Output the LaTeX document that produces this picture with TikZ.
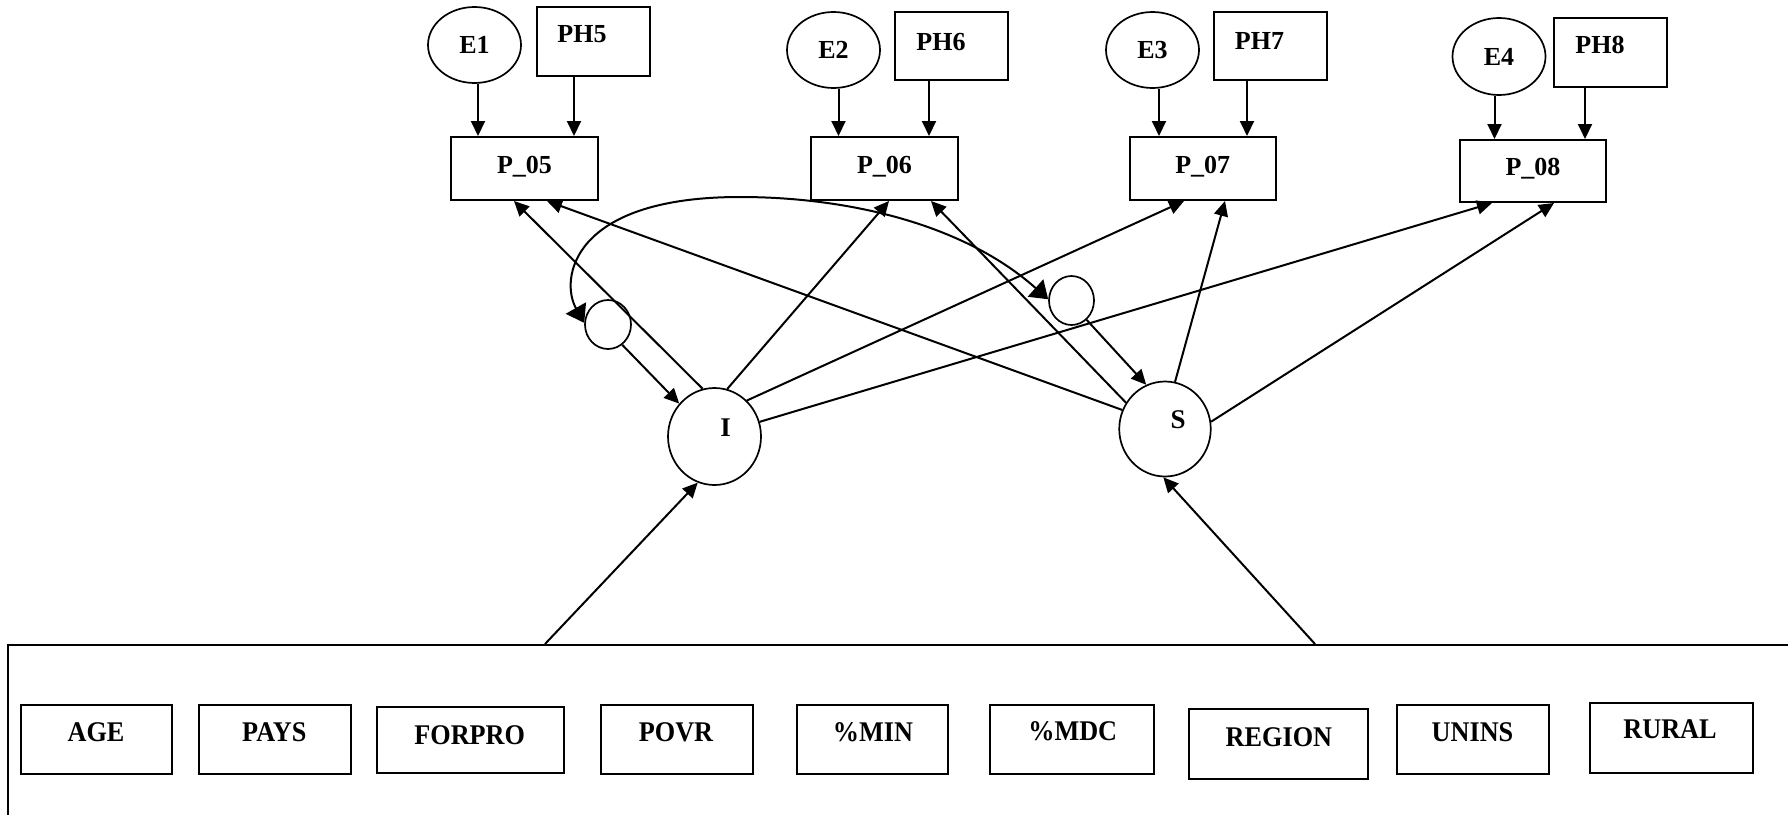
\documentclass[tikz,border=0pt]{standalone}
\usepackage{fontspec}
\setmainfont{Liberation Serif}
\usepackage{graphicx}
\usetikzlibrary{arrows.meta,calc,shapes.geometric}
\newcommand\toplab{\bfseries\fontsize{26}{30}\selectfont}
\newcommand\botlab{\bfseries\fontsize{28.5}{32}\selectfont}
\newcommand\sq[1]{\scalebox{0.92}[1]{#1}}
\begin{document}
\begin{tikzpicture}[x=1pt,y=-1pt,
  txt/.style={font=\toplab, text height=17pt, text depth=0pt, inner sep=0pt},
  btxt/.style={font=\botlab, text height=18.5pt, text depth=0pt, inner sep=0pt},
  box/.style={draw, line width=2pt, rectangle, inner sep=0pt, txt},
  pbox/.style={box, text depth=8pt},
  ell/.style={draw, ellipse, line width=1.7pt, inner sep=0pt, txt},
  conn/.style={line width=2pt, -{Triangle[length=15pt,width=14pt]}},
  covarrow/.style={line width=2pt, {Triangle[length=17pt,width=23pt]}-{Triangle[length=17pt,width=23pt]}},
]
\useasboundingbox (0,0) rectangle (1788,814);
\fill[white] (0,0) rectangle (1788,814);

% error terms and PH boxes
\node[ell, minimum width=93pt, minimum height=76pt] (E1) at (474.5,45) {E1};
\node[ell, minimum width=93pt, minimum height=76pt] (E2) at (833.5,50) {E2};
\node[ell, minimum width=93pt, minimum height=76pt] (E3) at (1152.5,50) {E3};
\node[ell, minimum width=93pt, minimum height=77pt] (E4) at (1499,56.5) {E4};

\node[box, minimum width=113pt, minimum height=69pt] (PH5) at (593.5,41.5) {};
\node[box, minimum width=113pt, minimum height=68pt] (PH6) at (951.5,46) {};
\node[box, minimum width=113pt, minimum height=68pt] (PH7) at (1270.5,46) {};
\node[box, minimum width=113pt, minimum height=69pt] (PH8) at (1610.5,52.5) {};
\node[txt] (PH5t) at (582,34) {PH5};
\node[txt] (PH6t) at (941,41.7) {PH6};
\node[txt] (PH7t) at (1259.5,40.8) {PH7};
\node[txt] (PH8t) at (1600,44.7) {PH8};

% indicator boxes
\node[pbox, minimum width=147pt, minimum height=63pt] (P05) at (524.5,168.5) {P\_05};
\node[pbox, minimum width=147pt, minimum height=63pt] (P06) at (884.5,168.5) {P\_06};
\node[pbox, minimum width=146.5pt, minimum height=63pt] (P07) at (1202.75,168.5) {P\_07};
\node[pbox, minimum width=146pt, minimum height=62pt] (P08) at (1533,171) {P\_08};

% latent factors and disturbances
\node[ell, minimum width=93pt, minimum height=97pt] (I) at (714.5,436.5) {};
\node[ell, minimum width=91.5pt, minimum height=95pt] (S) at (1165,429) {};
\node[txt, font=\bfseries\fontsize{27}{30}\selectfont] (It) at (725.5,427.5) {I};
\node[txt, font=\bfseries\fontsize{27}{30}\selectfont] (St) at (1178,420) {S};
\node[ell, minimum width=46pt, minimum height=49pt] (eL) at (608,324.5) {};
\node[ell, minimum width=45pt, minimum height=49pt] (eR) at (1071.5,300.5) {};

% covariate group
\node[draw, line width=2pt, rectangle, inner sep=0pt, anchor=north west,
      minimum width=1850pt, minimum height=220pt] (grp) at (7,644) {};
\node[box, minimum width=151.3pt, minimum height=69pt] (AGE) at (96.3,739.5) {};
\node[box, minimum width=152pt, minimum height=69pt] (PAYS) at (275,739.5) {};
\node[box, minimum width=187pt, minimum height=66pt] (FORPRO) at (470.5,740) {};
\node[box, minimum width=152pt, minimum height=69pt] (POVR) at (677,739.5) {};
\node[box, minimum width=151pt, minimum height=69pt] (MIN) at (872.5,739.5) {};
\node[box, minimum width=164pt, minimum height=69pt] (MDC) at (1071.6,739.5) {};
\node[box, minimum width=179pt, minimum height=70pt] (REGION) at (1278.5,744) {};
\node[box, minimum width=152pt, minimum height=69pt] (UNINS) at (1472.9,739.5) {};
\node[box, minimum width=163pt, minimum height=70pt] (RURAL) at (1671.5,737.7) {};
\node[btxt] (AGEt) at (96,732.3) {\sq{AGE}};
\node[btxt] (PAYSt) at (274.3,732.3) {\sq{PAYS}};
\node[btxt] (FORPROt) at (469.7,735) {\sq{FORPRO}};
\node[btxt] (POVRt) at (676,732) {\sq{POVR}};
\node[btxt] (MINt) at (873,732) {\sq{\%MIN}};
\node[btxt] (MDCt) at (1072.7,731.7) {\sq{\%MDC}};
\node[btxt] (REGIONt) at (1278.9,736.8) {\sq{REGION}};
\node[btxt] (UNINSt) at (1472.5,732.3) {\sq{UNINS}};
\node[btxt] (RURALt) at (1670,729) {\sq{RURAL}};

% E and PH arrows
\draw[conn] ([xshift=3.5pt]E1.south) -- ([xshift=3.5pt]E1.south |- P05.north);
\draw[conn] ([xshift=-19.5pt]PH5.south) -- ([xshift=-19.5pt]PH5.south |- P05.north);
\draw[conn] ([xshift=5pt]E2.south) -- ([xshift=5pt]E2.south |- P06.north);
\draw[conn] ([xshift=-22.5pt]PH6.south) -- ([xshift=-22.5pt]PH6.south |- P06.north);
\draw[conn] ([xshift=6.5pt]E3.south) -- ([xshift=6.5pt]E3.south |- P07.north);
\draw[conn] ([xshift=-23.5pt]PH7.south) -- ([xshift=-23.5pt]PH7.south |- P07.north);
\draw[conn] ([xshift=-4.5pt]E4.south) -- ([xshift=-4.5pt]E4.south |- P08.north);
\draw[conn] ([xshift=-25.5pt]PH8.south) -- ([xshift=-25.5pt]PH8.south |- P08.north);

% loadings
\draw[conn] (I.104.5) -- ($(P05.south west)+(64,0)$);
\draw[conn] (S.156.4) -- ($(P05.south west)+(97,0)$);
\draw[conn] (I.75) -- ($(P06.south west)+(79,0)$);
\draw[conn] (S.146.6) -- ($(P06.south west)+(121,0)$);
\draw[conn] (I.48.6) -- ($(P07.south west)+(55.5,0)$);
\draw[conn] (S.78.9) -- ($(P07.south west)+(96.5,0)$);
\draw[conn] (I.18) -- ($(P08.south west)+(33,0)$);
\draw[conn] (S.9.1) -- ($(P08.south west)+(95,0)$);

% disturbances
\draw[conn] (eL.-55.7) -- (I.137.7);
\draw[conn] (eR.-52.5) -- (S.113.5);
\coordinate (ctop) at (740,197);
\draw[covarrow] (eL.176) .. controls (560,280) and (570,197) .. (ctop)
  .. controls (850,197) and (965,225) .. (eR.177);

% covariates
\draw[conn] ($(grp.north west)+(538,0)$) -- (I.-110);
\draw[conn] ($(grp.north west)+(1308,0)$) -- (S.-92.3);
\end{tikzpicture}
\end{document}
